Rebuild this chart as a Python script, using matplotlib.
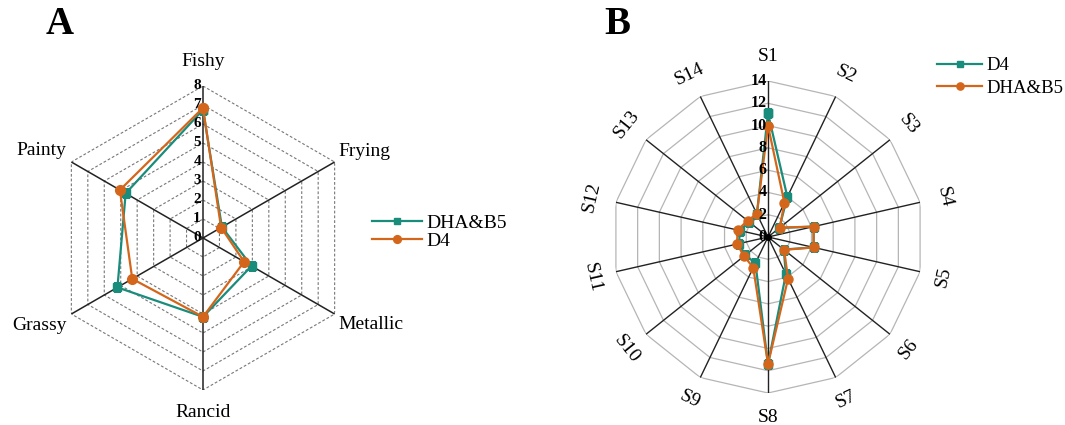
import numpy as np
import matplotlib
matplotlib.use("Agg")
import matplotlib.pyplot as plt

plt.rcParams['font.family'] = ['Liberation Serif', 'DejaVu Serif']

# ---------------- data ----------------
# Panel A
attrs_a = ["Fishy", "Frying", "Metallic", "Rancid", "Grassy", "Painty"]
dha_b5_a = [6.75, 1.15, 2.95, 4.15, 5.2, 4.7]
d4_a = [6.85, 1.1, 2.5, 4.15, 4.3, 5.05]
ticks_a = [0, 1, 2, 3, 4, 5, 6, 7, 8]

# Panel B
attrs_b = ["S1", "S2", "S3", "S4", "S5", "S6", "S7", "S8", "S9", "S10", "S11", "S12", "S13", "S14"]
d4_b = [11.1, 4.0, 1.3, 4.2, 4.2, 1.8, 3.7, 11.4, 2.6, 2.6, 2.7, 2.55, 2.2, 2.3]
dha_b5_b = [10.0, 3.4, 1.35, 4.2, 4.2, 1.85, 4.15, 11.4, 3.05, 2.75, 2.85, 2.8, 2.35, 2.3]
ticks_b = [0, 2, 4, 6, 8, 10, 12, 14]

TEAL = "#1a8c7b"
ORANGE = "#d4661b"

fig = plt.figure(figsize=(10.65, 4.25), dpi=100)


def setup(ax, n, rmax):
    ax.set_theta_zero_location('N')
    ax.set_theta_direction(-1)
    ax.set_ylim(0, rmax)
    ax.grid(False)
    ax.set_xticks([])
    ax.set_yticks([])
    ax.spines['polar'].set_visible(False)
    ax.patch.set_alpha(0)
    ang = np.arange(n) * 2 * np.pi / n
    return ang


def closed(a):
    return np.concatenate([a, a[:1]])


# ---------------- Panel A ----------------
axA = fig.add_axes([(203 - 152) / 1065, (425 - 238 - 152) / 425, 304 / 1065, 304 / 425], projection='polar')
angA = setup(axA, len(attrs_a), ticks_a[-1])
for r in ticks_a[1:]:
    axA.plot(closed(angA), [r] * (len(angA) + 1), color='#777777', lw=0.8, ls=(0, (2.5, 1.8)), zorder=1)
for a in angA:
    axA.plot([a, a], [0, ticks_a[-1]], color='#222222', lw=1.1, zorder=2)
for t in ticks_a:
    axA.annotate(str(t), xy=(0, t), xytext=(-1.5, 0), textcoords='offset points',
                 ha='right', va='center', fontsize=11, fontweight='bold', zorder=5)
lA1, = axA.plot(closed(angA), closed(np.array(dha_b5_a)), color=TEAL, lw=1.6, marker='s', ms=6,
                zorder=3, label='DHA&B5')
lA2, = axA.plot(closed(angA), closed(np.array(d4_a)), color=ORANGE, lw=1.6, marker='o', ms=7,
                zorder=4, label='D4')
posA = [(0, 8.85, 'center', 'bottom'),
        (angA[1], 8.2, 'left', 'bottom'),
        (angA[2], 8.2, 'left', 'top'),
        (angA[3], 8.75, 'center', 'top'),
        (angA[4], 8.3, 'right', 'top'),
        (angA[5], 8.3, 'right', 'bottom')]
for lab, (a, r, ha, va) in zip(attrs_a, posA):
    axA.text(a, r, lab, ha=ha, va=va, fontsize=14)

fig.legend(handles=[lA1, lA2], loc='center left', bbox_to_anchor=(362 / 1065, 1 - 232 / 425),
           frameon=False, fontsize=14, handlelength=2.6, handletextpad=0.2, labelspacing=0.0,
           borderpad=0, markerscale=0.8)

# ---------------- Panel B ----------------
axB = fig.add_axes([(768 - 156) / 1065, (425 - 237 - 156) / 425, 312 / 1065, 312 / 425], projection='polar')
angB = setup(axB, len(attrs_b), ticks_b[-1])
for r in ticks_b[1:]:
    axB.plot(closed(angB), [r] * (len(angB) + 1), color='#b5b5b5', lw=0.9, zorder=1)
for a in angB:
    axB.plot([a, a], [0, ticks_b[-1]], color='#222222', lw=1.0, zorder=2)
for t in ticks_b:
    axB.annotate(str(t), xy=(0, t), xytext=(-1.0, 0), textcoords='offset points',
                 ha='right', va='center', fontsize=11.5, fontweight='bold', zorder=5)
lB1, = axB.plot(closed(angB), closed(np.array(d4_b)), color=TEAL, lw=1.6, marker='s', ms=6,
                zorder=3, label='D4')
lB2, = axB.plot(closed(angB), closed(np.array(dha_b5_b)), color=ORANGE, lw=1.6, marker='o', ms=6.5,
                zorder=4, label='DHA&B5')
axB.plot([0], [0], marker='o', color='black', ms=4, zorder=6)
for lab, a in zip(attrs_b, angB):
    deg = np.degrees(a)
    if 90 < deg < 270:
        rot = 180 - deg
    else:
        rot = -deg
    axB.text(a, 16.2, lab, ha='center', va='center', rotation=rot, rotation_mode='anchor', fontsize=14)

fig.legend(handles=[lB1, lB2], loc='center left', bbox_to_anchor=(928 / 1065, 1 - 77 / 425),
           frameon=False, fontsize=13.5, handlelength=2.4, handletextpad=0.2, labelspacing=0.3,
           borderpad=0, markerscale=0.8)

# panel letters
fig.text(60 / 1065, 1 - 25 / 425, "A", fontsize=28, fontweight='bold', ha='center', va='center')
fig.text(617 / 1065, 1 - 25 / 425, "B", fontsize=28, fontweight='bold', ha='center', va='center')

fig.savefig("out.png", dpi=100)
